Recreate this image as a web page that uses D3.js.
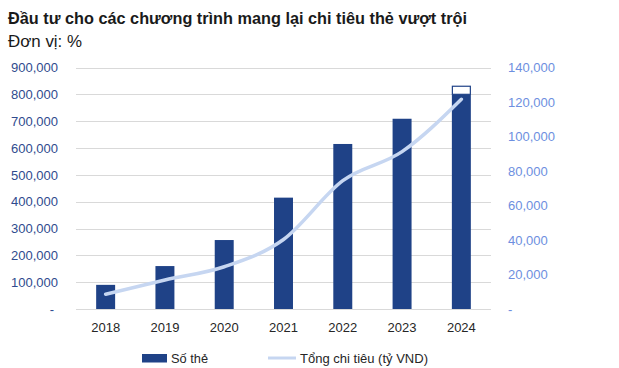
<!DOCTYPE html>
<html>
<head>
<meta charset="utf-8">
<script src="https://cdn.jsdelivr.net/npm/d3@7"></script>
<style>
  body { margin: 0; background: #ffffff; }
  svg { display: block; font-family: 'Liberation Sans', Arial, sans-serif; }
</style>
</head>
<body>
<div id="chart"></div>
<script>
// Data.
const years = ['2018', '2019', '2020', '2021', '2022', '2023', '2024'];
const soThe = [90000, 160000, 257000, 415000, 615000, 709000, 800000];
const tongChiTieu = [8600, 16800, 24500, 40300, 74400, 91200, 121600];
// 2024 bar has a small outlined (white) cap on top.
const capYear = '2024';
const capTop = 832000;
const leftTicks = [0, 100000, 200000, 300000, 400000, 500000, 600000, 700000, 800000, 900000];
const rightTicks = [0, 20000, 40000, 60000, 80000, 100000, 120000, 140000];

const dims = {
  width: 619,
  height: 368,
  left: 76,
  right: 491,
  top: 67.5,
  bottom: 309,
};

const colors = {
  bar: '#1f4287',
  line: '#c6d6f1',
  grid: '#d9d9d9',
  leftText: '#2f4b8e',
  rightText: '#6d8fe0',
  text: '#262626',
};

const svg = d3.select('#chart')
      .append('svg')
      .attr('width', dims.width)
      .attr('height', dims.height);

// Scales.
const x = d3.scaleBand()
      .domain(years)
      .range([dims.left, dims.right])
      .paddingInner(0.68)
      .paddingOuter(0.34);

const yLeft = d3.scaleLinear()
      .domain([0, 900000])
      .range([dims.bottom, dims.top]);

const yRight = d3.scaleLinear()
      .domain([0, 140000])
      .range([dims.bottom, dims.top]);

const fmt = d3.format(',');

// Gridlines.
svg.append('g')
  .selectAll('line')
  .data(leftTicks)
  .join('line')
  .attr('x1', dims.left)
  .attr('x2', dims.right)
  .attr('y1', d => Math.round(yLeft(d)) + 0.5)
  .attr('y2', d => Math.round(yLeft(d)) + 0.5)
  .attr('stroke', colors.grid)
  .attr('stroke-width', 1);

// Left axis.
const leftAxis = svg.append('g')
      .attr('transform', `translate(${dims.left},0)`)
      .call(d3.axisLeft(yLeft).tickValues(leftTicks).tickSize(0).tickPadding(18)
            .tickFormat(d => d === 0 ? '-' : fmt(d)));
leftAxis.select('.domain').remove();
leftAxis.selectAll('text')
  .attr('fill', colors.leftText)
  .style('font-size', '13px')
  .attr('x', d => d === 0 ? -22 : -18);

// Right axis.
const rightAxis = svg.append('g')
      .attr('transform', `translate(${dims.right},0)`)
      .call(d3.axisRight(yRight).tickValues(rightTicks).tickSize(0).tickPadding(17)
            .tickFormat(d => d === 0 ? '-' : fmt(d)));
rightAxis.select('.domain').remove();
rightAxis.selectAll('text')
  .attr('fill', colors.rightText)
  .style('font-size', '13px');

// Bottom axis.
const bottomAxis = svg.append('g')
      .attr('transform', `translate(0,${dims.bottom})`)
      .call(d3.axisBottom(x).tickSize(0).tickPadding(14));
bottomAxis.select('.domain').remove();
bottomAxis.selectAll('text')
  .attr('fill', colors.text)
  .style('font-size', '13px');

// Bars.
svg.append('g')
  .selectAll('rect')
  .data(years)
  .join('rect')
  .attr('x', d => x(d))
  .attr('width', x.bandwidth())
  .attr('y', (d, i) => yLeft(soThe[i]))
  .attr('height', (d, i) => yLeft(0) - yLeft(soThe[i]))
  .attr('fill', colors.bar);

// Outlined cap on the 2024 bar.
const capIndex = years.indexOf(capYear);
svg.append('rect')
  .attr('x', x(capYear) + 0.5)
  .attr('width', x.bandwidth() - 1)
  .attr('y', yLeft(capTop) + 0.5)
  .attr('height', yLeft(soThe[capIndex]) - yLeft(capTop) - 0.5)
  .attr('fill', '#ffffff')
  .attr('stroke', colors.bar)
  .attr('stroke-width', 1.2);

// Line.
const line = d3.line()
      .x((d, i) => x(years[i]) + x.bandwidth() / 2)
      .y(d => yRight(d))
      .curve(d3.curveMonotoneX);

svg.append('path')
  .datum(tongChiTieu)
  .attr('d', line)
  .attr('fill', 'none')
  .attr('stroke', colors.line)
  .attr('stroke-width', 3.5)
  .attr('stroke-linecap', 'round')
  .attr('stroke-linejoin', 'round');

// Title.
svg.append('text')
  .attr('x', 8)
  .attr('y', 24)
  .attr('fill', '#1a1a1a')
  .style('font-size', '16px')
  .style('font-weight', 'bold')
  .attr('textLength', 459)
  .attr('lengthAdjust', 'spacingAndGlyphs')
  .text('Đầu tư cho các chương trình mang lại chi tiêu thẻ vượt trội');

svg.append('text')
  .attr('x', 8)
  .attr('y', 47)
  .attr('fill', '#1a1a1a')
  .style('font-size', '16px')
  .attr('textLength', 74)
  .attr('lengthAdjust', 'spacingAndGlyphs')
  .text('Đơn vị: %');

// Legend.
const legend = svg.append('g');
legend.append('rect')
  .attr('x', 142)
  .attr('y', 354)
  .attr('width', 25)
  .attr('height', 8.5)
  .attr('fill', colors.bar);
legend.append('text')
  .attr('x', 171)
  .attr('y', 363)
  .attr('fill', colors.text)
  .style('font-size', '13px')
  .attr('textLength', 37)
  .attr('lengthAdjust', 'spacingAndGlyphs')
  .text('Số thẻ');
legend.append('line')
  .attr('x1', 268)
  .attr('x2', 296)
  .attr('y1', 358)
  .attr('y2', 358)
  .attr('stroke', colors.line)
  .attr('stroke-width', 3);
legend.append('text')
  .attr('x', 300)
  .attr('y', 363)
  .attr('fill', colors.text)
  .style('font-size', '13px')
  .attr('textLength', 128)
  .attr('lengthAdjust', 'spacingAndGlyphs')
  .text('Tổng chi tiêu (tỷ VND)');
</script>
</body>
</html>
